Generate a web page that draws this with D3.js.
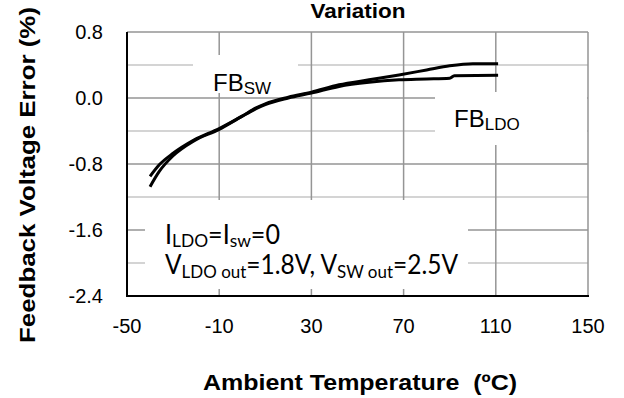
<!DOCTYPE html>
<html>
<head>
<meta charset="utf-8">
<script src="https://cdn.jsdelivr.net/npm/d3@7"></script>
<style>
  html, body { margin: 0; padding: 0; background: #fff; }
  svg { display: block; }
  text { white-space: pre; }
</style>
</head>
<body>
<svg id="chart" width="624" height="398"></svg>
<script>
// Feedback voltage error vs. ambient temperature
const xTicks = [-50, -10, 30, 70, 110, 150];
const yTicks = [0.8, 0.0, -0.8, -1.6, -2.4];
const yMinor = [0.4, -0.4, -1.2, -2.0];
const yTickLabels = ["0.8", "0.0", "-0.8", "-1.6", "-2.4"];

// Temperature (°C) and error (%) for the switcher feedback
const swTemp  = [-40, -36, -30, -21, -10, 0, 6, 10, 20, 30, 42, 55, 68, 80, 90, 100, 111];
const swError = [-0.95, -0.81, -0.67, -0.51, -0.37, -0.22, -0.12, -0.07, 0.01, 0.07, 0.16, 0.22, 0.28, 0.34, 0.39, 0.415, 0.415];

// Temperature (°C) and error (%) for the LDO feedback
const ldoTemp  = [-40, -36, -30, -21, -10, 0, 6, 10, 20, 30, 42, 55, 68, 80, 90, 92, 111];
const ldoError = [-1.075, -0.89, -0.70, -0.52, -0.38, -0.22, -0.13, -0.08, 0.0, 0.06, 0.14, 0.19, 0.22, 0.23, 0.24, 0.27, 0.275];

const svg = d3.select("#chart");
const plot = { left: 127, right: 588, top: 32, bottom: 296 };

const x = d3.scaleLinear().domain([-50, 150]).range([plot.left, plot.right]);
const y = d3.scaleLinear().domain([-2.4, 0.8]).range([plot.bottom, plot.top]);

const sans = "'Liberation Sans', Arial, sans-serif";
const body = "Lato, 'Open Sans', sans-serif";

// minor horizontal grid
svg.append("g").selectAll("line").data(yMinor).join("line")
  .attr("x1", plot.left).attr("x2", plot.right)
  .attr("y1", d => y(d)).attr("y2", d => y(d))
  .attr("stroke", "#c6c6c6").attr("stroke-width", 1.5);

// major horizontal grid
svg.append("g").selectAll("line").data(yTicks.slice(0, -1)).join("line")
  .attr("x1", plot.left).attr("x2", plot.right)
  .attr("y1", d => y(d)).attr("y2", d => y(d))
  .attr("stroke", "#959595").attr("stroke-width", 1.5);

// vertical grid
svg.append("g").selectAll("line").data(xTicks.slice(1)).join("line")
  .attr("x1", d => x(d)).attr("x2", d => x(d))
  .attr("y1", plot.top).attr("y2", plot.bottom)
  .attr("stroke", "#959595").attr("stroke-width", 1.5);

// white backing behind the annotations
const boxes = [
  { x0: 193, x1: 298, y0: 55, y1: 93 },
  { x0: 435, x1: 587, y0: 92, y1: 145 },
  { x0: 145, x1: 468, y0: 200, y1: 289 }
];
svg.append("g").selectAll("rect").data(boxes).join("rect")
  .attr("x", d => d.x0).attr("y", d => d.y0)
  .attr("width", d => d.x1 - d.x0).attr("height", d => d.y1 - d.y0)
  .attr("fill", "#fff");

// axis lines (left and bottom)
svg.append("line").attr("x1", plot.left).attr("x2", plot.left)
  .attr("y1", plot.top).attr("y2", plot.bottom + 1)
  .attr("stroke", "#000").attr("stroke-width", 2);
svg.append("line").attr("x1", plot.left - 1).attr("x2", plot.right + 1)
  .attr("y1", plot.bottom).attr("y2", plot.bottom)
  .attr("stroke", "#000").attr("stroke-width", 2);

// curves
const line = d3.line().x(d => x(d[0])).y(d => y(d[1])).curve(d3.curveMonotoneX);
const series = [
  d3.zip(swTemp, swError),
  d3.zip(ldoTemp, ldoError)
];
svg.append("g").selectAll("path").data(series).join("path")
  .attr("d", line)
  .attr("fill", "none").attr("stroke", "#000").attr("stroke-width", 3)
  .attr("stroke-linejoin", "round");

// tick labels
svg.append("g").selectAll("text").data(yTicks).join("text")
  .attr("x", 103).attr("y", d => y(d) + 7)
  .attr("text-anchor", "end")
  .attr("font-family", sans).attr("font-size", 20)
  .text((d, i) => yTickLabels[i]);

svg.append("g").selectAll("text").data(xTicks).join("text")
  .attr("x", d => x(d)).attr("y", 333)
  .attr("text-anchor", "middle")
  .attr("font-family", sans).attr("font-size", 20)
  .text(d => d);

// titles
svg.append("text").attr("x", 358).attr("y", 18).attr("text-anchor", "middle")
  .attr("font-family", sans).attr("font-weight", "bold").attr("font-size", 21)
  .attr("textLength", 95).attr("lengthAdjust", "spacingAndGlyphs")
  .text("Variation");

svg.append("text").attr("x", 360).attr("y", 390).attr("text-anchor", "middle")
  .attr("font-family", sans).attr("font-weight", "bold").attr("font-size", 22)
  .attr("textLength", 314).attr("lengthAdjust", "spacingAndGlyphs")
  .text("Ambient Temperature  (ºC)");

svg.append("text").attr("transform", "translate(35,175) rotate(-90)")
  .attr("text-anchor", "middle")
  .attr("font-family", sans).attr("font-weight", "bold").attr("font-size", 22)
  .attr("textLength", 336).attr("lengthAdjust", "spacingAndGlyphs")
  .text("Feedback Voltage Error (%)");

// text with subscripts
function label(px, py, parts, family, size, subSize, shift, len) {
  const t = svg.append("text").attr("x", px).attr("y", py)
    .attr("font-family", family).attr("font-size", size);
  if (len) t.attr("textLength", len).attr("lengthAdjust", "spacingAndGlyphs");
  let down = false;
  parts.forEach(([s, sub]) => {
    const ts = t.append("tspan").text(s);
    if (sub && !down) { ts.attr("dy", shift).attr("font-size", subSize); down = true; }
    else if (sub) { ts.attr("font-size", subSize); }
    else if (down) { ts.attr("dy", -shift); down = false; }
  });
  return t;
}

label(213, 91, [["FB"], ["SW", true]], sans, 24, 17, 3);
label(454, 127, [["FB"], ["LDO", true]], sans, 24, 17, 3);
label(165, 244, [["I"], ["LDO", true], ["=I"], ["sw", true], ["=0"]], body, 26, 18, 3, 115);
label(165, 274, [["V"], ["LDO out", true], ["=1.8V, V"], ["SW out", true], ["=2.5V"]], body, 26, 18, 4, 293);
</script>
</body>
</html>
